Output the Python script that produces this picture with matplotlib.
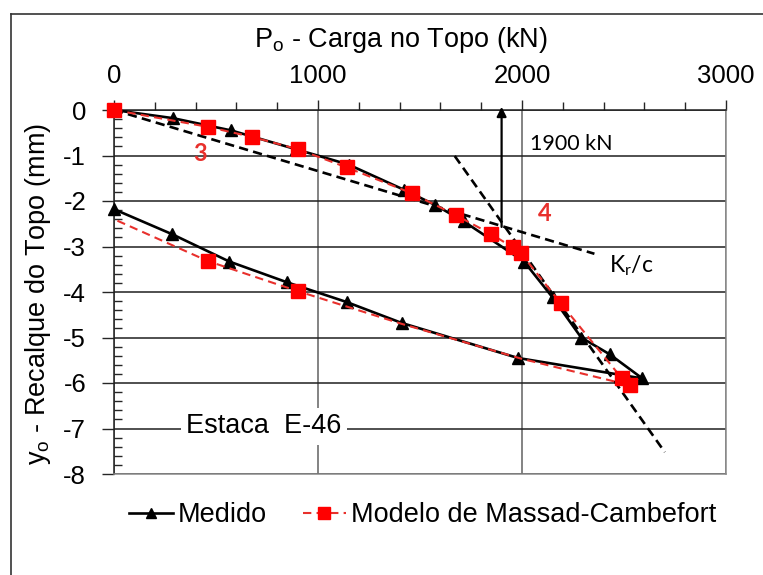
import numpy as np
import matplotlib
matplotlib.use("Agg")
import matplotlib.pyplot as plt
from matplotlib.lines import Line2D
from matplotlib.ticker import MultipleLocator

plt.rcParams['font.family'] = ['Liberation Sans', 'DejaVu Sans']
plt.rcParams['mathtext.fontset'] = 'custom'
plt.rcParams['mathtext.rm'] = 'Liberation Sans'
plt.rcParams['mathtext.it'] = 'Liberation Sans:italic'
plt.rcParams['axes.unicode_minus'] = False

# Prova de carga - estaca E-46 (carga no topo x recalque)
medido_P = [0, 290, 575, 890, 1150, 1420, 1575, 1715, 2010, 2150, 2290, 2430, 2590,
            1980, 1410, 1140, 850, 565, 285, 0]
medido_y = [0, -0.18, -0.45, -0.86, -1.2, -1.75, -2.09, -2.45, -3.33, -4.12, -5.0, -5.37, -5.9,
            -5.45, -4.68, -4.22, -3.79, -3.33, -2.73, -2.18]

modelo_P = [0, 460, 675, 900, 1140, 1460, 1675, 1850, 1955, 1995, 2190, 2490, 2530,
            2000, 1410, 900, 460, 0]
modelo_y = [0, -0.37, -0.59, -0.86, -1.26, -1.83, -2.31, -2.73, -3.02, -3.15, -4.25, -5.9, -6.05,
            -5.47, -4.7, -3.98, -3.32, -2.4]
modelo_marcas = [0, 1, 2, 3, 4, 5, 6, 7, 8, 9, 10, 11, 12, 15, 16]

# retas tangentes (trecho 3 e trecho 4)
reta3_P = [0, 2355]
reta3_y = [0, -3.16]
reta4_P = [1670, 2700]
reta4_y = [-1.01, -7.52]

carga_ruptura = 1900

fig = plt.figure(figsize=(7.63, 5.75), dpi=100)
ax = fig.add_axes([114/763, 1 - 474/575, 612/763, 364/575])

ax.plot(medido_P, medido_y, color='black', lw=1.9, marker='^', ms=8.5,
        mfc='black', mec='black', zorder=4, clip_on=False)
ax.plot(modelo_P, modelo_y, color='#e8302c', lw=1.5, ls=(0, (4, 2.5)), zorder=5)
ax.plot([modelo_P[i] for i in modelo_marcas], [modelo_y[i] for i in modelo_marcas],
        ls='none', marker='s', ms=10, mfc='#ff0000', mec='#ff0000', zorder=6, clip_on=False)

ax.plot(reta3_P, reta3_y, color='black', lw=1.9, ls=(0, (3.5, 2)), zorder=3)
ax.plot(reta4_P, reta4_y, color='black', lw=1.9, ls=(0, (3.5, 2)), zorder=3)

ax.annotate('', xy=(carga_ruptura, 0.07), xytext=(carga_ruptura, -2.57),
            arrowprops=dict(arrowstyle='-|>', color='black', lw=1.6,
                            mutation_scale=14, shrinkA=0, shrinkB=0),
            annotation_clip=False, zorder=7)
ax.text(2040, -0.74, '1900 kN', family='Lato', fontsize=15.5, va='center', ha='left')
ax.text(2425, -3.42, r'K$_\mathregular{r}$/c', family='Lato', fontsize=16.5,
        va='center', ha='left')
ax.text(421, -0.95, '3', family='Lato', fontweight='bold', fontsize=17,
        color='#e8302c', ha='center', va='center')
ax.text(2113, -2.28, '4', family='Lato', fontweight='bold', fontsize=17,
        color='#e8302c', ha='center', va='center')
ax.text(735, -6.95, 'Estaca  E-46', fontsize=19.5, ha='center', va='center',
        bbox=dict(facecolor='white', edgecolor='none', pad=4), zorder=3)

ax.set_xlim(0, 3000)
ax.set_ylim(-8, 0)
ax.xaxis.set_major_locator(MultipleLocator(1000))
ax.xaxis.set_minor_locator(MultipleLocator(200))
ax.yaxis.set_major_locator(MultipleLocator(1))
ax.yaxis.set_minor_locator(MultipleLocator(0.2))
ax.xaxis.tick_top()
ax.xaxis.set_label_position('top')
ax.tick_params(axis='x', which='major', direction='out', length=7, width=1,
               labelsize=18.5, pad=9, colors='#262626')
ax.tick_params(axis='x', which='minor', direction='out', length=6, width=1, colors='#262626')
ax.tick_params(axis='y', which='major', direction='out', length=9, width=1,
               labelsize=18.5, pad=11, colors='#262626')
ax.tick_params(axis='y', which='minor', direction='in', length=6, width=1, colors='#262626')
ax.tick_params(labelcolor='black')

ax.grid(axis='y', which='major', color='#1f1f1f', lw=1.1)
ax.grid(axis='x', which='major', color='#7a7a7a', lw=1.3)
ax.set_axisbelow(True)
ax.spines['left'].set_color('#1f1f1f')
ax.spines['top'].set_color('#1f1f1f')
ax.spines['right'].set_color('#8a8a8a')
ax.spines['bottom'].set_color('#8a8a8a')
for s in ax.spines.values():
    s.set_linewidth(1.1)

ax.set_xlabel(r'P$_\mathregular{o}$ - Carga no Topo (kN)', fontsize=19.5, labelpad=8)
ax.xaxis.set_label_coords(0.469, 1.0 + (110 - 47) / 364, transform=ax.transAxes)
ax.xaxis.label.set_va('baseline')
ax.set_ylabel(r'y$_\mathregular{o}$ - Recalque do Topo (mm)', fontsize=19.5)
ax.yaxis.set_label_coords((38 - 114) / 612, 0.495)
ax.yaxis.label.set_va('center')

h_med = Line2D([], [], color='black', lw=1.9, marker='^', ms=7, mfc='black', mec='black')
h_mod = Line2D([], [], color='#e8302c', lw=1.5, ls=(0, (4, 2.5)), marker='s', ms=8,
               mfc='#ff0000', mec='#ff0000')
fig.legend([h_med, h_mod], ['Medido', 'Modelo de Massad-Cambefort'], loc='center',
           bbox_to_anchor=(423/763, 1 - 515/575), ncol=2, frameon=False, fontsize=19.5,
           handlelength=1.6, handletextpad=0.2, columnspacing=1.3)

# moldura externa
fig.add_artist(Line2D([11/763, 1], [1 - 14/575, 1 - 14/575], color='#333333', lw=1.2,
                      transform=fig.transFigure))
fig.add_artist(Line2D([11/763, 11/763], [0, 1 - 14/575], color='#333333', lw=1.2,
                      transform=fig.transFigure))

fig.savefig('out.png', dpi=100)
